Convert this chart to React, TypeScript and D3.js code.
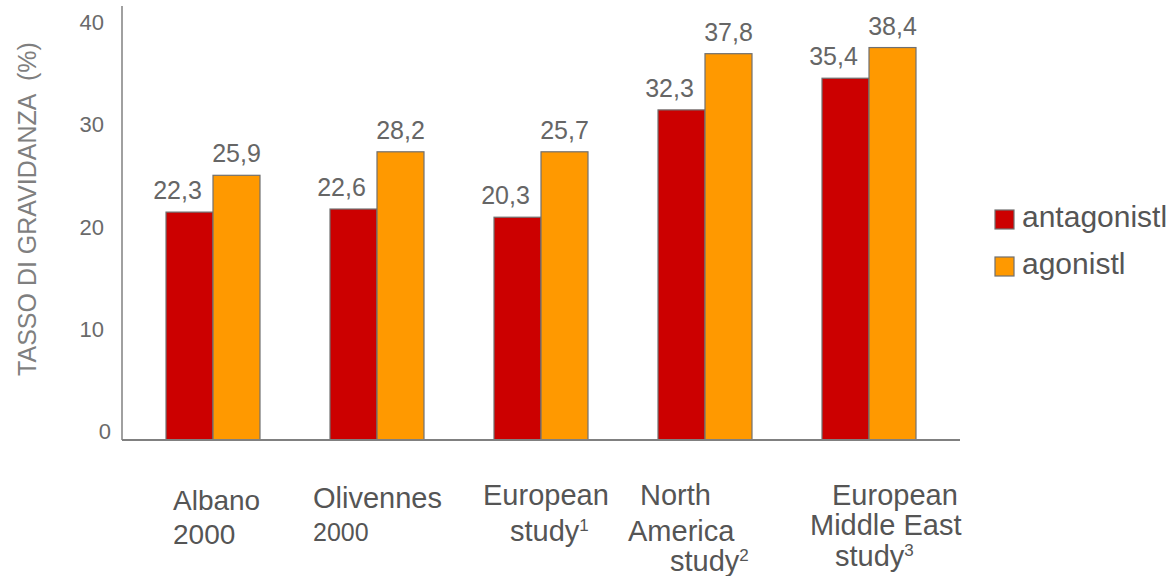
import React from "react";
import * as d3 from "d3";

const categories = ["Albano 2000", "Olivennes 2000", "European study 1", "North America study 2", "European Middle East study 3"];
const seriesNames = ["antagonistl", "agonistl"];
// printed values (labels)
const antagonistLabels = ["22,3", "22,6", "20,3", "32,3", "35,4"];
const agonistLabels = ["25,9", "28,2", "25,7", "37,8", "38,4"];
// bar heights as drawn in the picture
const antagonistBars = [22.3, 22.6, 21.8, 32.3, 35.4];
const agonistBars = [25.9, 28.2, 28.2, 37.8, 38.4];
const yTicks = [0, 10, 20, 30, 40];
const yTitle = "TASSO DI GRAVIDANZA  (%)";

// category label lines: text, superscript, font size
const categoryLines: { text: string; sup?: string; size: number }[][] = [
  [{ text: "Albano", size: 28 }, { text: "2000", size: 28 }],
  [{ text: "Olivennes", size: 29 }, { text: "2000", size: 25 }],
  [{ text: "European", size: 29 }, { text: "study", sup: "1", size: 29 }],
  [{ text: "North", size: 29 }, { text: "America", size: 29 }, { text: "study", sup: "2", size: 29 }],
  [{ text: "European", size: 29 }, { text: "Middle East", size: 29 }, { text: "study", sup: "3", size: 29 }],
];
// layout of category label lines (dx from band start, baseline y)
const categoryLayout: [number, number][][] = [
  [[42, 510], [42, 544]],
  [[18, 508], [18, 541]],
  [[24, 505], [51, 541]],
  [[17, 505], [5, 541], [47, 571]],
  [[45, 505], [23, 535], [48, 566]],
];

const colors = ["#cc0000", "#ff9900"];
const FONT = "'Liberation Sans', Arial, Helvetica, sans-serif";

export default function App() {
  const W = 1173, H = 576;
  const x0 = 122, yBase = 440;
  const y = d3.scaleLinear().domain([0, 40]).range([yBase, 31.2]);
  const xBand = d3.scaleBand<string>().domain(categories).range([131, 951]).padding(0);
  const inner = d3.scaleBand<string>().domain(seriesNames).range([0, xBand.bandwidth()]).paddingInner(0).paddingOuter(0.745);
  const bars = [antagonistBars, agonistBars];
  const labels = [antagonistLabels, agonistLabels];

  return (
    <svg width={W} height={H} style={{ position: "absolute", left: 0, top: 0, background: "#fff" }} fontFamily={FONT}>
      <rect width={W} height={H} fill="#fff" />
      {/* y title */}
      <text transform={`translate(36, 209) rotate(-90)`} textAnchor="middle" fontSize={25} fill="#7f7f7f" style={{ whiteSpace: "pre" }}>
        {yTitle}
      </text>
      {/* y tick labels */}
      {yTicks.map((t) => (
        <text key={t} x={t === 0 ? 111 : 104} y={y(t) - 1} textAnchor="end" fontSize={22} fill="#6a6a6a">
          {t}
        </text>
      ))}
      {/* bars */}
      {categories.map((c, i) =>
        seriesNames.map((s, k) => {
          const bx = (xBand(c) as number) + (inner(s) as number);
          const v = bars[k][i];
          return (
            <rect key={c + s} x={bx} y={y(v)} width={inner.bandwidth()} height={yBase - y(v)} fill={colors[k]} stroke="#707070" strokeWidth={1.2} />
          );
        })
      )}
      {/* value labels */}
      {categories.map((c, i) =>
        seriesNames.map((s, k) => {
          const bx = (xBand(c) as number) + (inner(s) as number) + inner.bandwidth() / 2 + (k === 0 ? -12 : 0);
          const v = bars[k][i];
          return (
            <text key={"l" + c + s} x={bx} y={y(v) - 13} textAnchor="middle" fontSize={25} fill="#666">
              {labels[k][i]}
            </text>
          );
        })
      )}
      {/* axes */}
      <line x1={x0} x2={x0} y1={6} y2={yBase} stroke="#808080" strokeWidth={1.5} />
      <line x1={x0} x2={960} y1={yBase} y2={yBase} stroke="#808080" strokeWidth={2} />
      {/* category labels */}
      {categories.map((c, i) =>
        categoryLines[i].map((ln, j) => {
          const [dx, by] = categoryLayout[i][j];
          return (
            <text key={c + j} x={(xBand(c) as number) + dx} y={by} fontSize={ln.size} fill="#555">
              {ln.text}
              {ln.sup ? (
                <tspan dy={-10} fontSize={17}>
                  {ln.sup}
                </tspan>
              ) : null}
            </text>
          );
        })
      )}
      {/* legend */}
      {seriesNames.map((s, k) => (
        <g key={s}>
          <rect x={995} y={210 + k * 47} width={19} height={19} fill={colors[k]} stroke="#707070" strokeWidth={1.2} />
          <text x={1022} y={227 + k * 47} fontSize={30} fill="#555">
            {s}
          </text>
        </g>
      ))}
    </svg>
  );
}
